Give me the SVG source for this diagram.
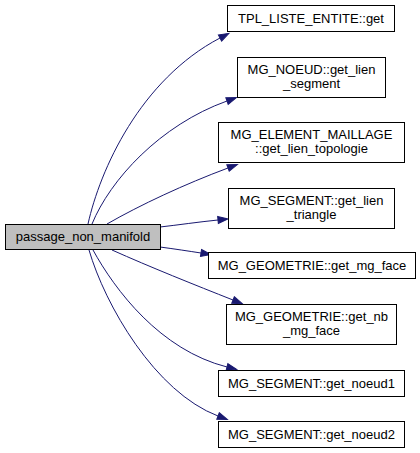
<svg xmlns="http://www.w3.org/2000/svg" width="420" height="453" viewBox="0 0 420 453">
<style>
.box{fill:#ffffff;stroke:#000000;stroke-width:1}
.main{fill:#bfbfbf;stroke:#000000;stroke-width:1}
.lbl{font-family:"Liberation Sans",Arial,Helvetica,sans-serif;font-size:13px;fill:#000000;text-anchor:middle}
.edge{fill:none;stroke:#191970;stroke-width:1;marker-end:url(#ah)}
</style>
<defs>
<marker id="ah" markerWidth="12" markerHeight="9" refX="0" refY="4.5" orient="auto" markerUnits="userSpaceOnUse" overflow="visible">
<polygon points="0,1 10,4.5 0,8" fill="#191970" stroke="#191970" stroke-width="1"/>
</marker>
</defs>
<rect width="420" height="453" fill="#ffffff"/>
<g id="connectors">
<path class="edge" d="M88,224 C100,170 140,80 220,38"/>
<path class="edge" d="M92,224 C110,180 160,125 227,101"/>
<path class="edge" d="M107,224 C140,205 185,184 228,168"/>
<path class="edge" d="M160,227 C178,225 198,222 218,220"/>
<path class="edge" d="M160,247 C175,249 188,251 201,253"/>
<path class="edge" d="M112,250 C150,267 195,285 233,300"/>
<path class="edge" d="M93,250 C115,290 160,350 227,367"/>
<path class="edge" d="M89,250 C105,305 155,392 218,416"/>
</g>
<g id="node_passage_non_manifold">
<rect class="main" x="5.5" y="224.5" width="155" height="25"/>
<text class="lbl" x="83" y="241">passage_non_manifold</text>
</g>
<g id="node_tpl_liste_entite_get">
<rect class="box" x="227.5" y="5.5" width="167" height="26"/>
<text class="lbl" x="311" y="22.5">TPL_LISTE_ENTITE::get</text>
</g>
<g id="node_mg_noeud_get_lien_segment">
<rect class="box" x="237.5" y="57.5" width="148" height="40"/>
<text class="lbl" x="311.5" y="73.5">MG_NOEUD::get_lien</text>
<text class="lbl" x="311.5" y="87.5">_segment</text>
</g>
<g id="node_mg_element_maillage_get_lien_topologie">
<rect class="box" x="218.5" y="122.5" width="186" height="40"/>
<text class="lbl" x="311.5" y="139">MG_ELEMENT_MAILLAGE</text>
<text class="lbl" x="311.5" y="153">::get_lien_topologie</text>
</g>
<g id="node_mg_segment_get_lien_triangle">
<rect class="box" x="228.5" y="188.5" width="166" height="40"/>
<text class="lbl" x="311.5" y="205">MG_SEGMENT::get_lien</text>
<text class="lbl" x="311.5" y="219">_triangle</text>
</g>
<g id="node_mg_geometrie_get_mg_face">
<rect class="box" x="208.5" y="252.5" width="207" height="26"/>
<text class="lbl" x="312" y="270">MG_GEOMETRIE::get_mg_face</text>
</g>
<g id="node_mg_geometrie_get_nb_mg_face">
<rect class="box" x="226.5" y="304.5" width="170" height="40"/>
<text class="lbl" x="311.5" y="321">MG_GEOMETRIE::get_nb</text>
<text class="lbl" x="311.5" y="335">_mg_face</text>
</g>
<g id="node_mg_segment_get_noeud1">
<rect class="box" x="218.5" y="370.5" width="186" height="26"/>
<text class="lbl" x="311.5" y="388">MG_SEGMENT::get_noeud1</text>
</g>
<g id="node_mg_segment_get_noeud2">
<rect class="box" x="218.5" y="421.5" width="186" height="26"/>
<text class="lbl" x="311.5" y="439">MG_SEGMENT::get_noeud2</text>
</g>
</svg>
